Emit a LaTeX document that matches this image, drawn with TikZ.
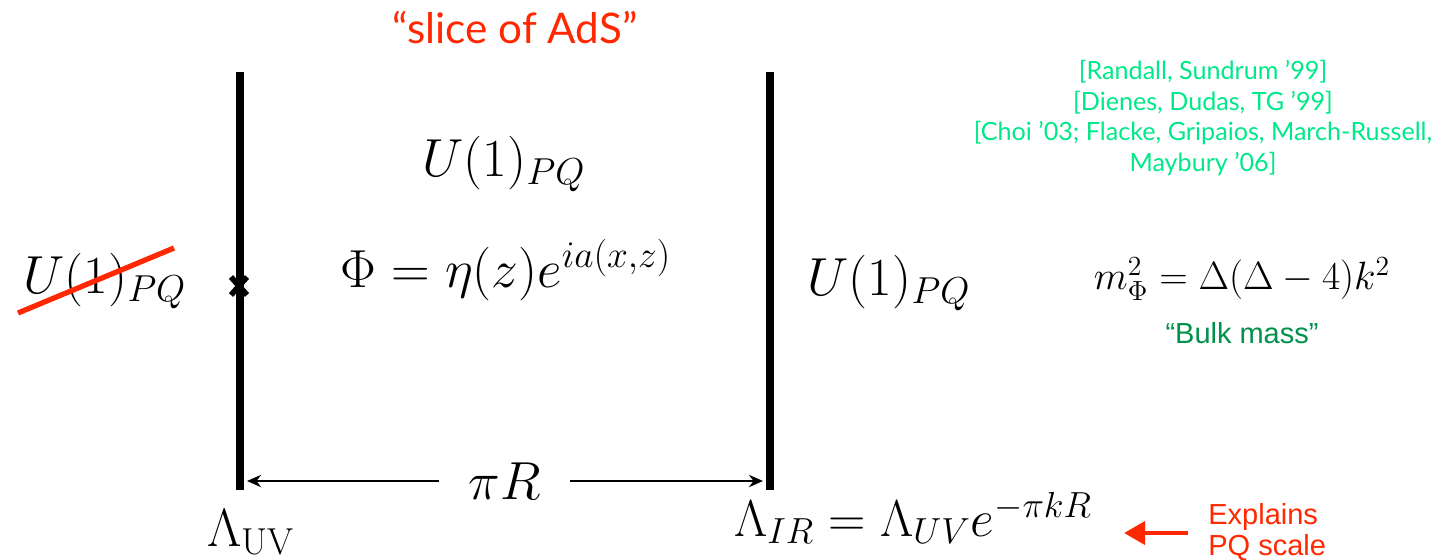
\RequirePackage{fix-cm}
\documentclass[tikz,border=0pt]{standalone}
\usepackage{amsmath}
\usepackage{fontspec}
\newfontfamily\gillfont{Lato}
\newfontfamily\helvfont{Liberation Sans}
\usetikzlibrary{arrows.meta, positioning}
\definecolor{slidered}{RGB}{255,40,0}
\definecolor{refgreen}{RGB}{0,232,135}
\definecolor{bulkgreen}{RGB}{0,145,75}
\tikzstyle{brane} = [line width=4.5pt]
\tikzstyle{bigmath} = [font=\fontsize{30.5}{36}\selectfont, inner sep=0pt]
\tikzstyle{scalemath} = [font=\fontsize{22.5}{27}\selectfont, inner sep=0pt]
\tikzstyle{refs} = [font=\gillfont\fontsize{14.3}{17.6}\selectfont, text=refgreen, align=center, inner sep=0pt]
\tikzstyle{note} = [font=\helvfont\fontsize{16.5}{17.6}\selectfont, inner sep=0pt]
\tikzstyle{arrow} = [line width=1.2pt,->,>={Stealth[length=8pt,width=7pt]}]

\begin{document}
\begin{tikzpicture}[x=0.02cm, y=-0.02cm]
  \useasboundingbox (0,0) rectangle (1449,559);

  % the two branes
  \coordinate (uvtop) at (240,72);
  \coordinate (uvbot) at (240,490);
  \coordinate (irtop) at (770,72);
  \coordinate (irbot) at (770,490);
  \draw[brane] (uvtop) -- (uvbot);
  \draw[brane] (irtop) -- (irbot);

  % marker on the UV brane
  \coordinate (mark) at (239,286);
  \draw[line width=3.2pt] ([shift={(-8,-9)}]mark) -- ([shift={(8,9)}]mark);
  \draw[line width=3.2pt] ([shift={(-8,9)}]mark) -- ([shift={(8,-9)}]mark);

  \node (title) [font=\gillfont\fontsize{24}{30}\selectfont, text=slidered] at (515,28) {“slice of AdS”};

  \node (pqleft)  [bigmath] at (105,281) {$U(1)_{PQ}$};
  \node (pqbulk)  [bigmath] at (504,164) {$U(1)_{PQ}$};
  \node (field)   [bigmath] at (506,270) {$\Phi = \eta(z) e^{i a(x,z)}$};
  \node (pqright) [bigmath] at (889,283) {$U(1)_{PQ}$};

  % broken symmetry on the left
  \coordinate (cutA) at (18,313);
  \coordinate (cutB) at (174,248);
  \draw[slidered, line width=3pt] (cutA) -- (cutB);

  \node (mass) [scalemath] at (1242,279) {$m_\Phi^2 = \Delta(\Delta-4)k^2$};
  \node (bulk) [note, text=bulkgreen, below=12pt of mass] {“Bulk mass”};

  \node (refs) [refs] at (1203,118) {{[}Randall, Sundrum ’99{]}\\
    {[}Dienes, Dudas, TG ’99{]}\\
    {[}Choi ’03; Flacke, Gripaios, March-Russell,\\
    Maybury ’06{]}};

  % length of the slice
  \node (len) [bigmath] at (505,481) {$\pi R$};
  \draw[arrow] ([xshift=-17pt]len.west) -- ([xshift=4pt]uvbot |- len.west);
  \draw[arrow] ([xshift=16pt]len.east) -- ([xshift=-4pt]irbot |- len.east);

  \node (luv) [bigmath] at (251,532) {$\Lambda_{\rm UV}$};
  \node (lir) [font=\fontsize{29.5}{36}\selectfont, inner sep=0pt] at (913,518) {$\Lambda_{IR} = \Lambda_{UV} e^{-\pi k R}$};

  \node (explain) [note, text=slidered, align=left, anchor=north west] at (1208,503) {Explains\\PQ scale};
  \coordinate (tail) at (1188,533);
  \coordinate (tip) at (1124,533);
  \draw[slidered, line width=2.6pt, -{Triangle[length=12pt,width=13pt]}] (tail) -- (tip);
\end{tikzpicture}
\end{document}
